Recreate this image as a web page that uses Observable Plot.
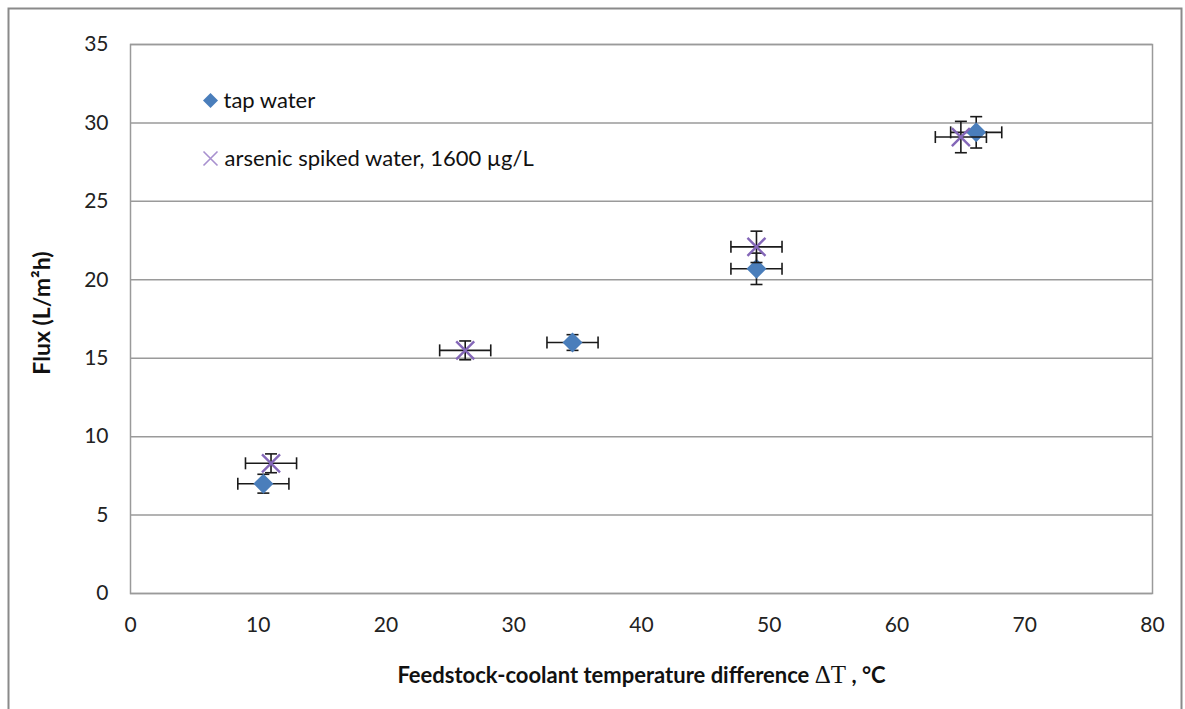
<!DOCTYPE html>
<html>
<head>
<meta charset="utf-8">
<script src="https://cdn.jsdelivr.net/npm/d3@7"></script>
<script src="https://cdn.jsdelivr.net/npm/@observablehq/plot@0.6"></script>
<style>
  html, body { margin: 0; padding: 0; background: #fff; }
  #chart { position: relative; width: 1185px; height: 709px; }
</style>
</head>
<body>
<div id="chart"></div>
<script>
// ---- data ----
const seriesNames = ["tap water", "arsenic spiked water, 1600 µg/L"];
const tapX    = [10.4, 34.6, 49.0, 66.2];
const tapY    = [7.0, 16.0, 20.7, 29.4];
const tapXErr = [2, 2, 2, 2];
const tapYErr = [0.6, 0.5, 1.0, 1.0];
const asX     = [11.0, 26.2, 49.0, 65.0];
const asY     = [8.3, 15.5, 22.1, 29.1];
const asXErr  = [2, 2, 2, 2];
const asYErr  = [0.6, 0.6, 1.0, 1.0];
const xTicks  = [0, 10, 20, 30, 40, 50, 60, 70, 80];
const yTicks  = [0, 5, 10, 15, 20, 25, 30, 35];
const xTitleParts = ["Feedstock-coolant temperature difference ", "ΔT", " , °C"];
const xTitle  = xTitleParts.join("");
const yTitle  = "Flux (L/m²h)";

const tap = tapX.map((x, i) => ({x, y: tapY[i], ex: tapXErr[i], ey: tapYErr[i]}));
const ars = asX.map((x, i) => ({x, y: asY[i], ex: asXErr[i], ey: asYErr[i]}));

// ---- custom symbols (r = half-size) ----
const rad = size => Math.sqrt(size / Math.PI);
const vcap = {draw(c, s) { const r = rad(s); c.moveTo(0, -r); c.lineTo(0, r); }};
const hcap = {draw(c, s) { const r = rad(s); c.moveTo(-r, 0); c.lineTo(r, 0); }};
const diamond = {draw(c, s) { const r = rad(s); c.moveTo(0, -r); c.lineTo(r, 0); c.lineTo(0, r); c.lineTo(-r, 0); c.closePath(); }};
const cross = {draw(c, s) { const r = rad(s); c.moveTo(-r, -r); c.lineTo(r, r); c.moveTo(r, -r); c.lineTo(-r, r); }};

const blue = "#4a7ebb";
const purple = "#8467b8";
const errColor = "#1a1a1a";
const font = "Lato, 'Open Sans', sans-serif";

function errorMarks(data) {
  return [
    Plot.link(data, {x1: d => d.x - d.ex, x2: d => d.x + d.ex, y1: "y", y2: "y", stroke: errColor, strokeWidth: 1.6}),
    Plot.link(data, {x1: "x", x2: "x", y1: d => d.y - d.ey, y2: d => d.y + d.ey, stroke: errColor, strokeWidth: 1.6}),
    Plot.dot(data, {x: d => d.x - d.ex, y: "y", symbol: vcap, r: 6, stroke: errColor, strokeWidth: 1.6, fill: "none"}),
    Plot.dot(data, {x: d => d.x + d.ex, y: "y", symbol: vcap, r: 6, stroke: errColor, strokeWidth: 1.6, fill: "none"}),
    Plot.dot(data, {x: "x", y: d => d.y - d.ey, symbol: hcap, r: 6, stroke: errColor, strokeWidth: 1.6, fill: "none"}),
    Plot.dot(data, {x: "x", y: d => d.y + d.ey, symbol: hcap, r: 6, stroke: errColor, strokeWidth: 1.6, fill: "none"})
  ];
}

const chart = Plot.plot({
  width: 1185,
  height: 709,
  marginLeft: 130,
  marginRight: 33,
  marginTop: 44,
  marginBottom: 116,
  style: {fontFamily: font, background: "#fff", color: "#222", overflow: "visible"},
  x: {domain: [0, 80]},
  y: {domain: [0, 35]},
  marks: [
    Plot.gridY(yTicks, {stroke: "#9a9a9a", strokeOpacity: 1, strokeWidth: 1.5}),
    Plot.frame({stroke: "#9a9a9a", strokeWidth: 1.5}),
    Plot.axisX(xTicks, {tickSize: 0, tickPadding: 24, fontSize: 21, label: null}),
    Plot.axisY(yTicks, {tickSize: 0, tickPadding: 22, fontSize: 21, label: null}),
    ...errorMarks(tap),
    Plot.dot(tap, {x: "x", y: "y", symbol: diamond, r: 10, fill: blue, stroke: "none"}),
    ...errorMarks(ars),
    Plot.dot(ars, {x: "x", y: "y", symbol: cross, r: 9, fill: "none", stroke: purple, strokeWidth: 2.4}),
    // legend
    Plot.dot([seriesNames[0]], {frameAnchor: "top-left", dx: 80, dy: 56, symbol: diamond, r: 7.5, fill: blue, stroke: "none"}),
    Plot.text([seriesNames[0]], {text: d => d, frameAnchor: "top-left", lineAnchor: "middle", dx: 93, dy: 56, textAnchor: "start", fontSize: 22, fill: "#111"}),
    Plot.dot([seriesNames[1]], {frameAnchor: "top-left", dx: 80, dy: 114, symbol: cross, r: 7, fill: "none", stroke: "#a890cf", strokeWidth: 1.6}),
    Plot.text([seriesNames[1]], {text: d => d, frameAnchor: "top-left", lineAnchor: "middle", dx: 94, dy: 114, textAnchor: "start", fontSize: 22, fill: "#111"}),
    // axis titles
    Plot.text([xTitle], {text: d => d, frameAnchor: "bottom", lineAnchor: "middle", textAnchor: "middle", dy: 82, fontSize: 22, fontWeight: "bold", fill: "#111"}),
    Plot.text([yTitle], {text: d => d, frameAnchor: "left", lineAnchor: "middle", textAnchor: "middle", dx: -88, dy: -6, rotate: -90, fontSize: 23, fontWeight: "bold", fill: "#111"})
  ]
});

document.getElementById("chart").appendChild(chart);

// Serif ΔT in x title
d3.select(chart).selectAll("text").filter(function () { return this.textContent === xTitle; })
  .each(function () {
    const t = d3.select(this);
    t.text(null);
    t.append("tspan").text(xTitleParts[0]);
    t.append("tspan")
      .attr("font-family", "'DejaVu Serif', 'Liberation Serif', serif")
      .style("font-family", "'Liberation Serif', 'DejaVu Serif', serif")
      .style("font-weight", "normal")
      .style("font-size", "25px")
      .text(xTitleParts[1]);
    t.append("tspan").text(xTitleParts[2]);
  });

// outer chart border
d3.select(chart).append("rect")
  .attr("x", 8.5).attr("y", 8.5).attr("width", 1173).attr("height", 720)
  .attr("fill", "none").attr("stroke", "#8a8a8a").attr("stroke-width", 2);
</script>
</body>
</html>
